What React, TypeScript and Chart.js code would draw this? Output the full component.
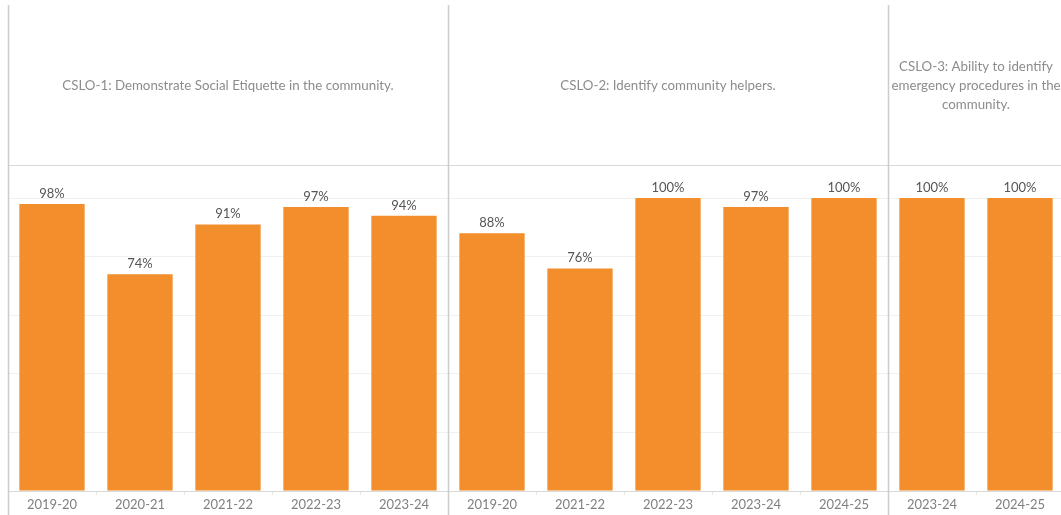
import React, { useEffect, useRef } from "react";
import { Chart, registerables } from "chart.js";

Chart.register(...registerables);

const panel1Years = ["2019-20", "2020-21", "2021-22", "2022-23", "2023-24"];
const panel1Values = [98, 74, 91, 97, 94];
const panel2Years = ["2019-20", "2021-22", "2022-23", "2023-24", "2024-25"];
const panel2Values = [88, 76, 100, 97, 100];
const panel3Years = ["2023-24", "2024-25"];
const panel3Values = [100, 100];

const headerLines = [
  ["CSLO-1: Demonstrate Social Etiquette in the community."],
  ["CSLO-2: Identify community helpers."],
  ["CSLO-3: Ability to identify", "emergency procedures in the", "community."],
];

const panelSizes = [panel1Years.length, panel2Years.length, panel3Years.length];
const categories = [...panel1Years, ...panel2Years, ...panel3Years];
const values = [...panel1Values, ...panel2Values, ...panel3Values];

const FONT = "Lato, 'Open Sans', sans-serif";
const BAR = "#f28e2b";

const decorPlugin = {
  id: "decor",
  afterDraw(chart: any) {
    const ctx = chart.ctx;
    const x = chart.scales.x;
    const area = chart.chartArea;
    const bounds: number[] = [area.left];
    let idx = 0;
    for (let p = 0; p < panelSizes.length; p++) {
      idx += panelSizes[p];
      if (idx < categories.length) {
        bounds.push((x.getPixelForValue(idx - 1) + x.getPixelForValue(idx)) / 2);
      } else {
        bounds.push(area.right);
      }
    }
    ctx.save();
    // header line
    ctx.strokeStyle = "#d9d9d9";
    ctx.lineWidth = 1;
    ctx.beginPath();
    ctx.moveTo(area.left, area.top + 0.5);
    ctx.lineTo(chart.width, area.top + 0.5);
    ctx.stroke();
    // vertical lines
    ctx.strokeStyle = "#cccccc";
    ctx.lineWidth = 1.5;
    for (let i = 0; i < bounds.length - 1; i++) {
      ctx.beginPath();
      ctx.moveTo(Math.round(bounds[i]) + 0.5, 5);
      ctx.lineTo(Math.round(bounds[i]) + 0.5, chart.height);
      ctx.stroke();
    }
    // headers
    ctx.fillStyle = "#8c8c8c";
    ctx.font = `13.3px ${FONT}`;
    ctx.textAlign = "center";
    ctx.textBaseline = "middle";
    const cy = (5 + area.top) / 2;
    const lh = 19;
    for (let p = 0; p < headerLines.length; p++) {
      const lines = headerLines[p];
      const cx = (bounds[p] + bounds[p + 1]) / 2;
      const start = cy - ((lines.length - 1) * lh) / 2;
      lines.forEach((t, i) => ctx.fillText(t, cx, start + i * lh + 1));
    }
    // data labels
    ctx.font = `13px ${FONT}`;
    ctx.fillStyle = "#555555";
    ctx.textBaseline = "alphabetic";
    const meta = chart.getDatasetMeta(0);
    meta.data.forEach((bar: any, i: number) => {
      ctx.fillText(values[i] + "%", bar.x, bar.y - 6);
    });
    ctx.restore();
  },
};

export default function App() {
  const ref = useRef<HTMLCanvasElement>(null);
  useEffect(() => {
    if (!ref.current) return;
    const chart = new Chart(ref.current, {
      type: "bar",
      data: {
        labels: categories,
        datasets: [
          {
            data: values,
            backgroundColor: BAR,
            borderWidth: 0,
            categoryPercentage: 1,
            barPercentage: 0.742,
          },
        ],
      },
      options: {
        responsive: false,
        animation: false,
        devicePixelRatio: 1,
        layout: { padding: { left: 8, right: 0, top: 165, bottom: 0 } },
        plugins: { legend: { display: false }, tooltip: { enabled: false } },
        scales: {
          x: {
            grid: {
              drawOnChartArea: false,
              drawTicks: true,
              tickLength: 4,
              color: "#e6e6e6",
            },
            border: { color: "#d9d9d9", width: 1 },
            ticks: {
              color: "#808080",
              font: { size: 13, family: FONT },
              padding: 2,
              maxRotation: 0,
              autoSkip: false,
            },
            afterFit: (s: any) => {
              s.height = 24;
            },
          },
          y: {
            min: 0,
            max: 111.3,
            ticks: { display: false, stepSize: 20 },
            grid: { color: "#f0f0f0", drawTicks: false },
            border: { display: false },
            afterFit: (s: any) => {
              s.width = 0;
            },
          },
        },
      },
      plugins: [decorPlugin],
    });
    return () => chart.destroy();
  }, []);
  return (
    <div
      style={{
        position: "fixed",
        left: 0,
        top: 0,
        width: 1061,
        height: 515,
        overflow: "hidden",
        background: "#fff",
      }}
    >
      <canvas ref={ref} width={1064} height={515} style={{ display: "block", width: 1064, height: 515 }} />
    </div>
  );
}
